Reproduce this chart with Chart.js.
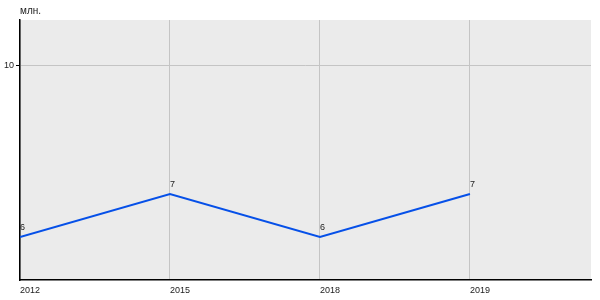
<!DOCTYPE html>
<html>
<head>
<meta charset="utf-8">
<script src="https://cdn.jsdelivr.net/npm/chart.js@4"></script>
<style>
  html, body { margin: 0; padding: 0; background: #fff; }
  #wrap { width: 600px; height: 300px; position: relative; }
</style>
</head>
<body>
<div id="wrap"><canvas id="c"></canvas></div>
<script>
"use strict";

const years = ["2012", "2015", "2018", "2019"];
const values = [6, 7, 6, 7];
const yTicks = [10];
const unitLabel = "млн.";

const FONT = "Arial, 'Liberation Sans', sans-serif";

// plot background + unit caption + point value labels
const extras = {
  id: "extras",
  beforeDraw(chart) {
    const { ctx, chartArea: a } = chart;
    ctx.save();
    ctx.fillStyle = "#ebebeb";
    ctx.fillRect(a.left, a.top, a.right - a.left, a.bottom - a.top);
    ctx.restore();
  },
  afterDatasetsDraw(chart) {
    const { ctx, chartArea: a } = chart;
    ctx.save();
    ctx.fillStyle = "#222";
    ctx.font = "10px " + FONT;
    ctx.textAlign = "left";
    ctx.textBaseline = "bottom";
    ctx.fillText(unitLabel, a.left, a.top - 4);
    ctx.font = "9px " + FONT;
    const meta = chart.getDatasetMeta(0);
    meta.data.forEach((p, i) => {
      ctx.fillText(String(values[i]), p.x, p.y - 5);
    });
    ctx.restore();
  },
};

new Chart(document.getElementById("c"), {
  type: "line",
  data: {
    datasets: [{
      data: values.map((v, i) => ({ x: i, y: v })),
      borderColor: "#0650e8",
      borderWidth: 2,
      pointRadius: 0,
      tension: 0,
    }],
  },
  options: {
    responsive: true,
    maintainAspectRatio: false,
    animation: false,
    layout: { padding: { top: 20, right: 9, left: 0, bottom: 0 } },
    plugins: { legend: { display: false }, tooltip: { enabled: false } },
    scales: {
      x: {
        type: "linear",
        min: 0,
        max: 3.807,
        afterBuildTicks: (s) => { s.ticks = years.map((_, i) => ({ value: i })); },
        afterFit: (s) => { s.height = 20; },
        ticks: {
          color: "#222",
          font: { size: 9, family: FONT },
          align: "start",
          padding: 5,
          maxRotation: 0,
          callback: (v) => years[v] ?? "",
        },
        grid: { color: "#c4c4c4", drawTicks: false },
        border: { color: "#000", width: 1.5 },
      },
      y: {
        min: 5,
        max: 11.05,
        afterBuildTicks: (s) => { s.ticks = yTicks.map((v) => ({ value: v })); },
        afterFit: (s) => { s.width = 20; },
        ticks: { color: "#222", font: { size: 9, family: FONT }, padding: 2 },
        grid: { color: "#c4c4c4", tickColor: "#000", tickLength: 4 },
        border: { color: "#000", width: 1.5 },
      },
    },
  },
  plugins: [extras],
});
</script>
</body>
</html>
